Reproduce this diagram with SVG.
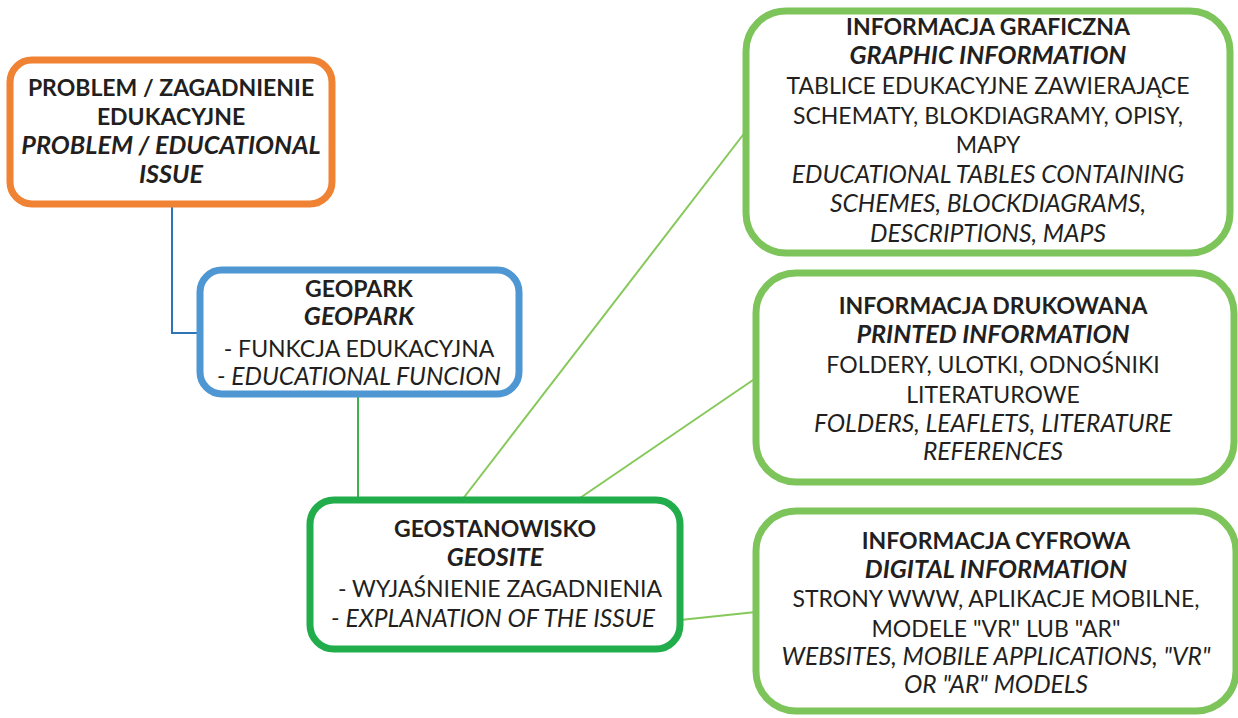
<svg xmlns="http://www.w3.org/2000/svg" width="1238" height="718" viewBox="0 0 1238 718">
<style>
text{font-family:"Lato","Open Sans","Liberation Sans",sans-serif;font-size:23px;fill:#231f20;text-anchor:middle}
.b{font-weight:bold}
.i{font-style:italic;font-size:24.6px}
.b.i{font-size:25.2px}
.box{fill:#fff;stroke-width:7}
.conn{fill:none;stroke-width:2}
</style>
<rect width="1238" height="718" fill="#fff"/>
<g id="connectors">
<polyline class="conn" stroke="#2e75b6" points="172,204 172,333 200,333"/>
<line class="conn" stroke="#3fb24a" x1="358" y1="394" x2="358" y2="500"/>
<line class="conn" stroke="#86c95a" x1="462" y1="500" x2="746" y2="131"/>
<line class="conn" stroke="#86c95a" x1="577" y1="500" x2="756" y2="378"/>
<line class="conn" stroke="#86c95a" x1="680" y1="620" x2="756" y2="612"/>
</g>
<g id="problem">
<rect class="box" x="10" y="60" width="322" height="144" rx="22" stroke="#ef8233"/>
<text x="171" y="96" class="b">PROBLEM / ZAGADNIENIE</text>
<text x="171" y="125" class="b">EDUKACYJNE</text>
<text x="171" y="154" class="b i">PROBLEM / EDUCATIONAL</text>
<text x="171" y="183" class="b i">ISSUE</text>
</g>
<g id="geopark">
<rect class="box" x="200" y="270" width="319" height="124" rx="22" stroke="#4f97d2"/>
<text x="359" y="297" class="b">GEOPARK</text>
<text x="359" y="325" class="b i">GEOPARK</text>
<text x="359" y="357">- FUNKCJA EDUKACYJNA</text>
<text x="359" y="385" class="i">- EDUCATIONAL FUNCION</text>
</g>
<g id="geosite">
<rect class="box" x="310" y="500" width="370" height="149" rx="24" stroke="#21ad4b"/>
<text x="495" y="537" class="b">GEOSTANOWISKO</text>
<text x="495" y="566" class="b i">GEOSITE</text>
<text x="500" y="597">- WYJAŚNIENIE ZAGADNIENIA</text>
<text x="493" y="627" class="i">- EXPLANATION OF THE ISSUE</text>
</g>
<g id="graphic">
<rect class="box" x="746" y="11" width="484" height="242" rx="40" stroke="#7dc55a"/>
<text x="988" y="35" class="b">INFORMACJA GRAFICZNA</text>
<text x="988" y="64" class="b i">GRAPHIC INFORMATION</text>
<text x="988" y="94">TABLICE EDUKACYJNE ZAWIERAJĄCE</text>
<text x="988" y="124">SCHEMATY, BLOKDIAGRAMY, OPISY,</text>
<text x="988" y="153">MAPY</text>
<text x="988" y="183" class="i">EDUCATIONAL TABLES CONTAINING</text>
<text x="988" y="212" class="i">SCHEMES, BLOCKDIAGRAMS,</text>
<text x="988" y="242" class="i">DESCRIPTIONS, MAPS</text>
</g>
<g id="printed">
<rect class="box" x="756" y="273" width="478" height="209" rx="40" stroke="#7dc55a"/>
<text x="993" y="314" class="b">INFORMACJA DRUKOWANA</text>
<text x="993" y="343" class="b i">PRINTED INFORMATION</text>
<text x="993" y="373">FOLDERY, ULOTKI, ODNOŚNIKI</text>
<text x="993" y="403">LITERATUROWE</text>
<text x="993" y="432" class="i">FOLDERS, LEAFLETS, LITERATURE</text>
<text x="993" y="460" class="i">REFERENCES</text>
</g>
<g id="digital">
<rect class="box" x="756" y="511" width="480" height="200" rx="40" stroke="#7dc55a"/>
<text x="996" y="549" class="b">INFORMACJA CYFROWA</text>
<text x="996" y="578" class="b i">DIGITAL INFORMATION</text>
<text x="996" y="607">STRONY WWW, APLIKACJE MOBILNE,</text>
<text x="996" y="637">MODELE "VR" LUB "AR"</text>
<text x="996" y="665" class="i">WEBSITES, MOBILE APPLICATIONS, "VR"</text>
<text x="996" y="693" class="i">OR "AR" MODELS</text>
</g>
</svg>
